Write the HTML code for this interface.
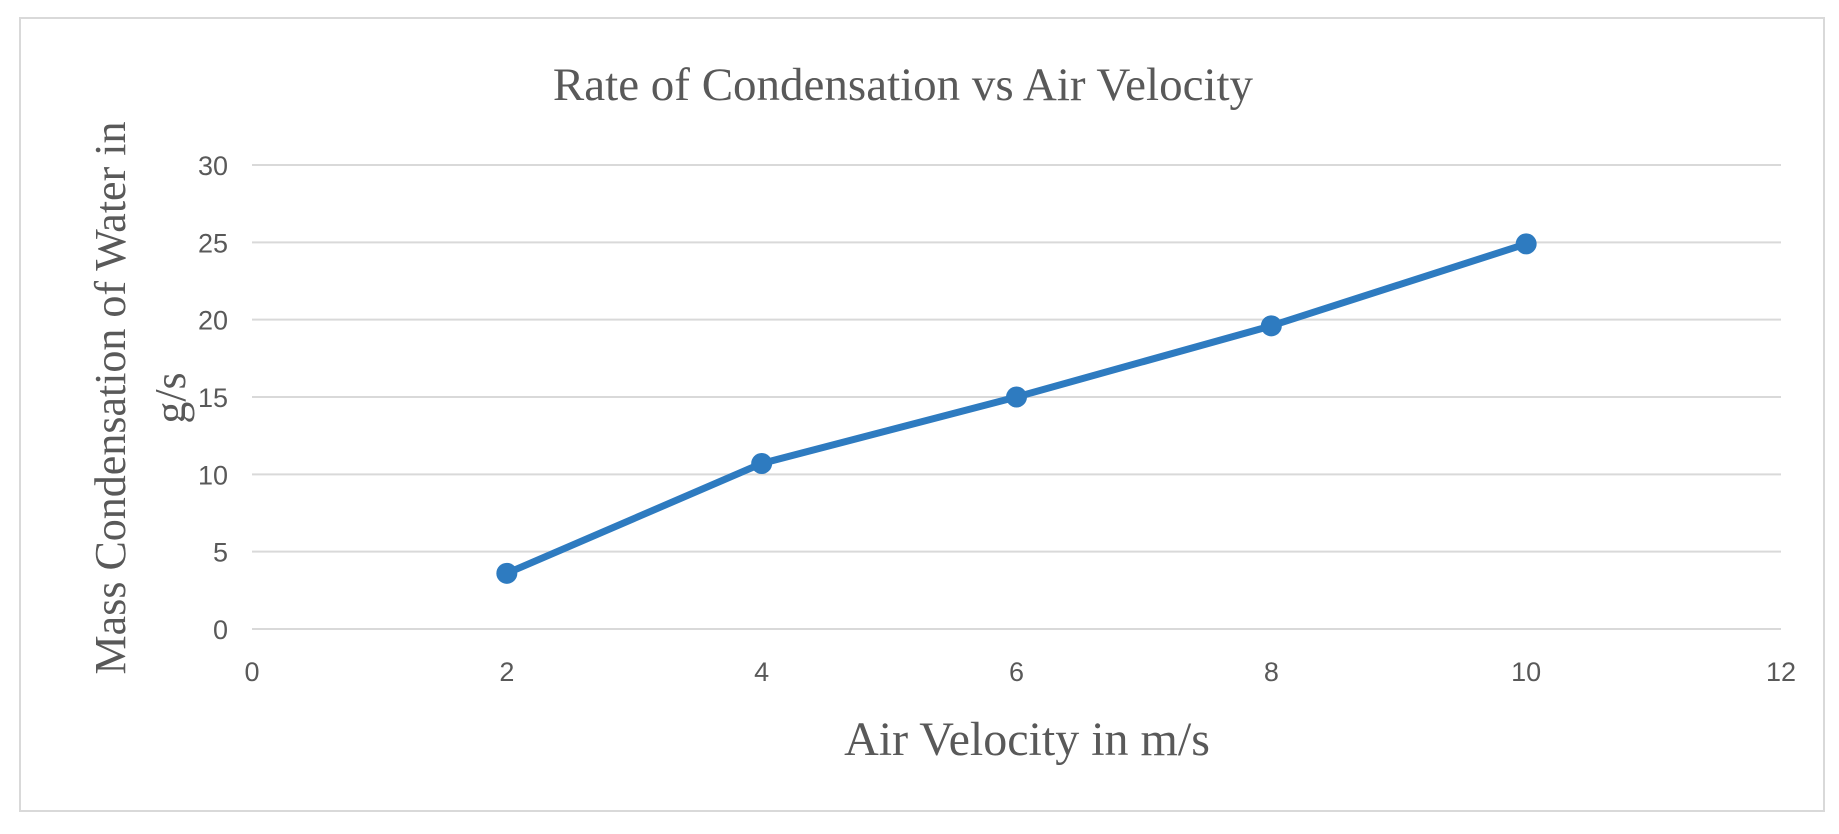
<!DOCTYPE html>
<html><head><meta charset="utf-8"><style>
html,body{margin:0;padding:0;background:#fff;}
svg{display:block;}
</style></head><body>
<svg id="chart" width="1839" height="834" xmlns="http://www.w3.org/2000/svg">
<rect x="20" y="18" width="1804" height="793" fill="#fff" stroke="#d9d9d9" stroke-width="2"/>
<text x="903" y="100" text-anchor="middle" font-family="Liberation Serif, serif" font-size="47" fill="#595959">Rate of Condensation vs Air Velocity</text>
<g id="grid"></g>
<g id="yticks"></g>
<g id="xticks"></g>
<text transform="translate(125,398) rotate(-90)" text-anchor="middle" font-family="Liberation Serif, serif" font-size="44" fill="#595959">Mass Condensation of Water in</text>
<text transform="translate(185,398) rotate(-90)" text-anchor="middle" font-family="Liberation Serif, serif" font-size="44" fill="#595959">g/s</text>
<text x="1027" y="755" text-anchor="middle" font-family="Liberation Serif, serif" font-size="48" fill="#595959">Air Velocity in m/s</text>
<g id="series"></g>
</svg>
<script>
const xValues = [2, 4, 6, 8, 10];
const yValues = [3.6, 10.7, 15.0, 19.6, 24.9];
const xTickLabels = [0, 2, 4, 6, 8, 10, 12];
const yTickLabels = [0, 5, 10, 15, 20, 25, 30];

const NS = "http://www.w3.org/2000/svg";
const X0 = 252, X1 = 1781, Y0 = 629, Y1 = 165;
const xScale = v => X0 + (v - 0) / 12 * (X1 - X0);
const yScale = v => Y0 - (v - 0) / 30 * (Y0 - Y1);
function mk(tag, attrs, parent) {
  const e = document.createElementNS(NS, tag);
  for (const k in attrs) e.setAttribute(k, attrs[k]);
  parent.appendChild(e);
  return e;
}
const grid = document.getElementById('grid');
const yt = document.getElementById('yticks');
const xt = document.getElementById('xticks');
const series = document.getElementById('series');

yTickLabels.forEach(v => {
  const l = mk('line', {x1: X0, x2: X1, y1: yScale(v), y2: yScale(v), stroke: '#d9d9d9', 'stroke-width': 2}, grid);
  
  
  const t = mk('text', {x: 228, y: yScale(v) + 10, 'text-anchor': 'end', 'font-family': 'Liberation Sans, sans-serif', 'font-size': 27, fill: '#595959'}, yt);
  t.textContent = v;
  
  
});
xTickLabels.forEach(v => {
  const t = mk('text', {x: xScale(v), y: 681, 'text-anchor': 'middle', 'font-family': 'Liberation Sans, sans-serif', 'font-size': 27, fill: '#595959'}, xt);
  t.textContent = v;
  
  
});
const pts = xValues.map((x, i) => xScale(x) + ',' + yScale(yValues[i])).join(' ');
const pl = mk('polyline', {points: pts, fill: 'none', stroke: '#2e7bc0', 'stroke-width': 7, 'stroke-linejoin': 'round', 'stroke-linecap': 'round'}, series);


xValues.forEach((x, i) => {
  const c = mk('circle', {cx: xScale(x), cy: yScale(yValues[i]), r: 10.5, fill: '#2e7bc0'}, series);
  
  
});
</script>
</body></html>
